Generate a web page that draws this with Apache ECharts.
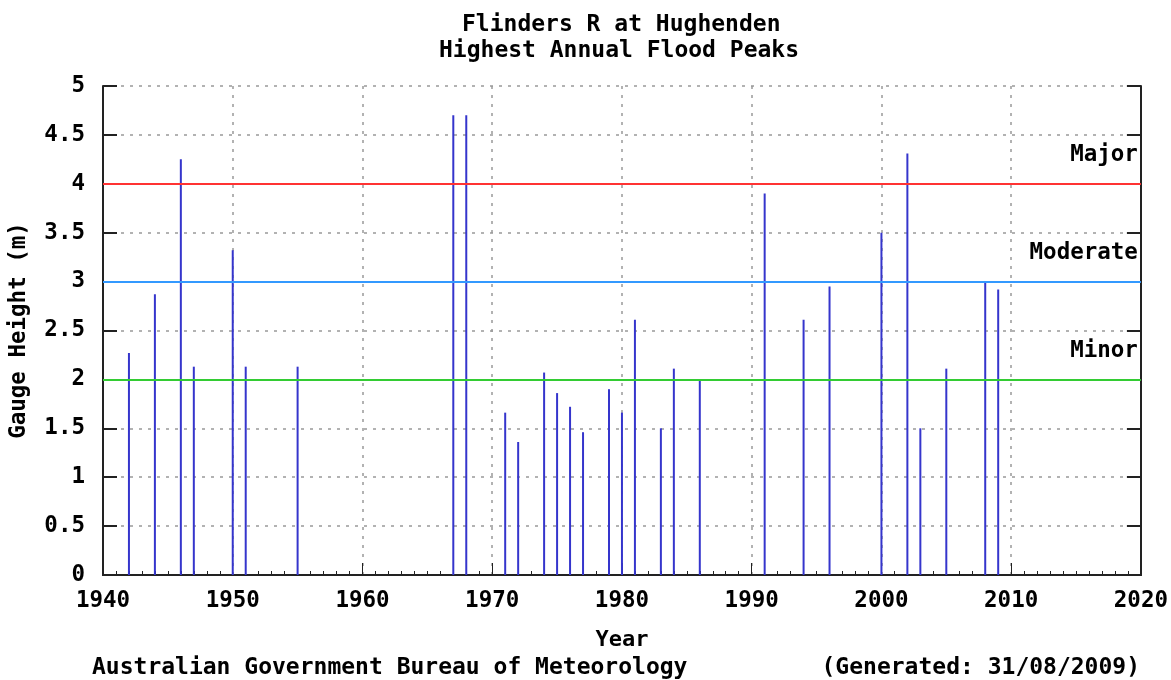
<!DOCTYPE html>
<html><head><meta charset="utf-8">
<script src="https://cdn.jsdelivr.net/npm/echarts@6/dist/echarts.min.js"></script>
<style>html,body{margin:0;padding:0;background:#fff}#c{width:1171px;height:680px}</style>
</head><body><div id="c"></div>
<script>
var years = [1942,1944,1946,1947,1950,1951,1955,1967,1968,1971,1972,1974,1975,1976,1977,1979,1980,1981,1983,1984,1986,1991,1994,1996,2000,2002,2003,2005,2008,2009];
var peaks = [2.27,2.87,4.25,2.13,3.32,2.13,2.13,4.70,4.70,1.66,1.36,2.07,1.86,1.72,1.46,1.90,1.66,2.61,1.50,2.11,2.00,3.90,2.61,2.95,3.50,4.31,1.50,2.11,3.00,2.92];
var floodLevels = [4, 3, 2];
var floodNames = ['Major', 'Moderate', 'Minor'];
var floodColors = ['#ff3333', '#3399ff', '#33cc33'];
var titleLines = ['Flinders R at Hughenden', 'Highest Annual Flood Peaks'];

var FONT = '"DejaVu Sans Mono", "Liberation Mono", monospace';
var chart = echarts.init(document.getElementById('c'), null, {renderer: 'canvas'});
var barData = years.map(function (y, i) { return [y, peaks[i]]; });
var markData = floodLevels.map(function (v, i) {
  return {yAxis: v, name: floodNames[i], lineStyle: {color: floodColors[i], width: 2, type: 'solid'}};
});
var grid = {left: 101, right: 30, top: 86, bottom: 105};
var txt = function (size) { return {fontFamily: FONT, fontWeight: 'bold', fontSize: size, color: '#000'}; };
chart.setOption({
  animation: false,
  backgroundColor: '#fff',
  textStyle: {fontFamily: FONT, fontWeight: 'bold', color: '#000'},
  title: [
    {text: titleLines[0], left: 457, top: 9, textStyle: txt(23)},
    {text: titleLines[1], left: 434, top: 35, textStyle: txt(23)},
    {text: 'Australian Government Bureau of Meteorology', left: 87, top: 652, textStyle: txt(23)},
    {text: '(Generated: 31/08/2009)', right: 26, top: 652, textStyle: txt(23)}
  ],
  grid: Object.assign({show: false}, grid),
  xAxis: [{
    type: 'value', min: 1940, max: 2020, interval: 10,
    name: 'Year', nameLocation: 'middle', nameGap: 54,
    nameTextStyle: txt(22),
    axisLine: {show: true, lineStyle: {color: '#222', width: 2}},
    axisTick: {show: true, inside: true, length: 12, lineStyle: {color: '#222', width: 1}},
    minorTick: {show: true, splitNumber: 10, length: 4, lineStyle: {color: '#222', width: 1}},
    axisLabel: Object.assign({margin: 15, showMinLabel: true, showMaxLabel: true,
      formatter: function (v) { return String(v); }}, txt(22.5)),
    splitLine: {show: true, lineStyle: {color: '#999', type: [3, 6], width: 1.5}}
  }, {
    type: 'value', min: 1940, max: 2020, interval: 10, position: 'top',
    axisLine: {show: true, lineStyle: {color: '#222', width: 2}},
    axisTick: {show: false}, axisLabel: {show: false}, splitLine: {show: false}
  }],
  yAxis: [{
    type: 'value', min: 0, max: 5, interval: 0.5,
    name: 'Gauge Height (m)', nameLocation: 'middle', nameGap: 72, nameRotate: 90,
    nameTextStyle: txt(22.5),
    axisLine: {show: true, lineStyle: {color: '#222', width: 2}},
    axisTick: {show: true, inside: true, length: 14, lineStyle: {color: '#222', width: 2}},
    axisLabel: Object.assign({margin: 18}, txt(22.5)),
    splitLine: {show: true, lineStyle: {color: '#999', type: [3, 6], width: 1.5}}
  }, {
    type: 'value', min: 0, max: 5, interval: 0.5, position: 'right',
    axisLine: {show: true, lineStyle: {color: '#222', width: 2}},
    axisTick: {show: true, inside: true, length: 14, lineStyle: {color: '#222', width: 2}},
    axisLabel: {show: false}, splitLine: {show: false}
  }],
  series: [{
    type: 'bar', data: barData, barWidth: 2, xAxisIndex: 0, yAxisIndex: 0,
    itemStyle: {color: '#3535cc'},
    markLine: {
      silent: true, symbol: 'none', data: markData,
      label: Object.assign({show: true, position: 'insideEndTop', formatter: '{b}', distance: [3, 17]}, txt(22.5))
    }
  }]
});
</script></body></html>
